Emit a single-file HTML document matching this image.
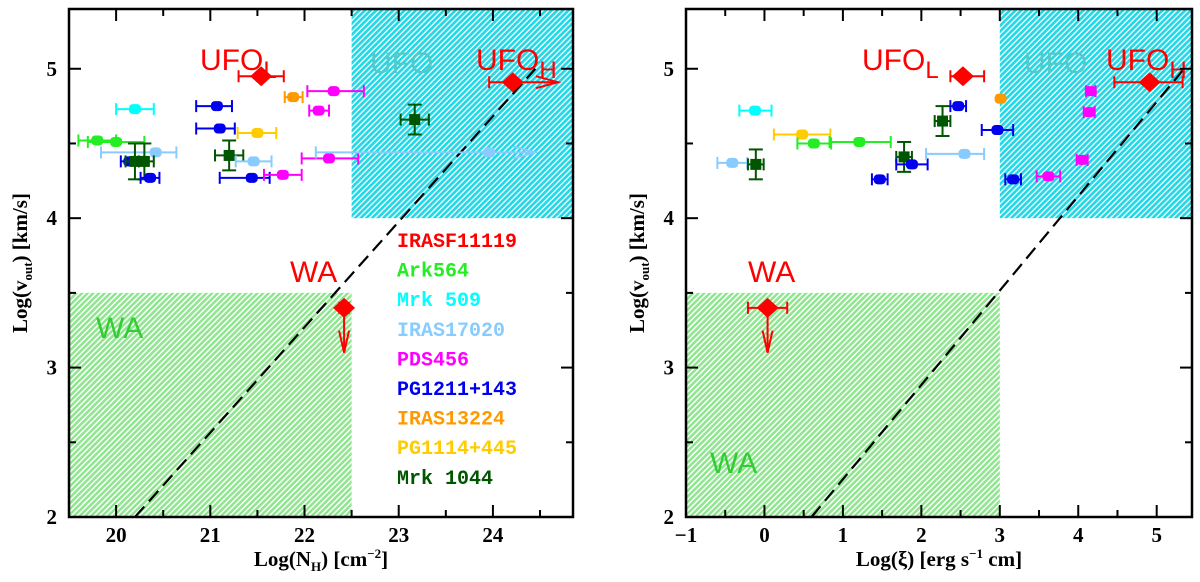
<!DOCTYPE html>
<html><head><meta charset="utf-8"><style>
html,body{margin:0;padding:0;background:#fff;width:1200px;height:582px;overflow:hidden}
svg text{font-family:"Liberation Sans",sans-serif}
.tl{font-family:"Liberation Serif",serif;font-weight:bold;font-size:21px}
.lg{font-family:"Liberation Mono",monospace;font-weight:bold;font-size:20px}
</style></head><body>
<svg id="c" width="1200" height="582" xmlns="http://www.w3.org/2000/svg">
<defs>
<pattern id="hc" width="4" height="4" patternUnits="userSpaceOnUse" patternTransform="rotate(45)">
<rect width="4" height="4" fill="#fff"/><rect width="2.7" height="4" fill="#22d8e6"/></pattern>
<pattern id="hg" width="4" height="4" patternUnits="userSpaceOnUse" patternTransform="rotate(45)">
<rect width="4" height="4" fill="#fff"/><rect width="2.5" height="4" fill="#8ee68e"/></pattern>
</defs>
</svg>
<script>
// colours per source
const colors = {IRASF11119:'#ff0000',Ark564:'#22ee22',Mrk509:'#00ffff',IRAS17020:'#88ccff',PDS456:'#ff00ff',PG1211:'#0000ee',IRAS13224:'#ff9900',PG1114:'#ffcc00',Mrk1044:'#005500'};
const legendNames = ['IRASF11119','Ark564','Mrk 509','IRAS17020','PDS456','PG1211+143','IRAS13224','PG1114+445','Mrk 1044'];
const legendKeys = ['IRASF11119','Ark564','Mrk509','IRAS17020','PDS456','PG1211','IRAS13224','PG1114','Mrk1044'];
// Left panel: log NH data
const nhSrc = ['IRASF11119','IRASF11119','IRAS13224','PDS456','PDS456','Mrk509','PG1211','PG1211','PG1114','Ark564','Ark564','IRAS17020','PG1211','Mrk1044','Mrk1044','PG1211','Mrk1044','IRAS17020','PG1211','PDS456','PDS456','IRAS17020','Mrk1044','IRASF11119'];
const nhX  = [21.54,24.21,21.88,22.31,22.15,20.2,21.07,21.1,21.5,19.8,20.0,20.42,20.14,20.2,20.3,20.36,21.2,21.46,21.44,21.77,22.26,23.96,23.17,22.42];
const nhY  = [4.95,4.91,4.81,4.85,4.72,4.73,4.75,4.6,4.57,4.52,4.51,4.44,4.38,4.38,4.38,4.27,4.42,4.38,4.27,4.29,4.40,4.44,4.66,3.40];
const nhXlo= [21.3,23.96,21.79,22.03,22.05,20.0,20.85,20.85,21.29,19.6,19.7,19.84,20.05,20.1,20.2,20.26,21.05,21.27,21.1,21.57,21.97,22.12,23.02,22.37];
const nhXhi= [21.78,24.69,21.98,22.63,22.26,20.4,21.23,21.26,21.7,20.0,20.3,20.64,20.24,20.3,20.4,20.46,21.35,21.65,21.63,21.97,22.57,24.45,23.32,22.47];
const nhYe = [0,0,0,0,0,0,0,0,0,0,0,0,0,0.12,0.12,0,0.1,0,0,0,0,0,0.1,0];
// Right panel: log xi data
const xiSrc = ['IRASF11119','IRASF11119','IRAS13224','PDS456','PDS456','Mrk509','PG1211','Mrk1044','PG1211','PG1114','Ark564','Ark564','IRAS17020','Mrk1044','Mrk1044','PG1211','IRAS17020','PG1211','PG1211','PDS456','PDS456','IRASF11119'];
const xiX  = [2.53,4.91,3.01,4.16,4.14,-0.12,2.47,2.27,2.97,0.48,0.63,1.21,-0.41,-0.11,1.78,1.88,2.55,1.47,3.17,4.05,3.62,0.04];
const xiY  = [4.95,4.91,4.80,4.85,4.71,4.72,4.75,4.65,4.59,4.56,4.50,4.51,4.37,4.36,4.41,4.36,4.43,4.26,4.26,4.39,4.28,3.40];
const xiXlo= [2.37,4.46,3.01,4.1,4.07,-0.32,2.37,2.17,2.77,0.12,0.42,0.83,-0.6,-0.21,1.68,1.68,2.06,1.37,3.07,3.98,3.47,-0.21];
const xiXhi= [2.8,5.33,3.01,4.22,4.21,0.09,2.57,2.37,3.17,0.84,0.85,1.61,-0.22,-0.01,1.88,2.08,2.8,1.57,3.27,4.12,3.77,0.29];
const xiYe = [0,0,0,0,0,0,0,0.1,0,0,0,0,0,0.1,0.1,0,0,0,0,0,0,0];
const yTicks = ['2','3','4','5'];
const nhTicks = ['20','21','22','23','24'];
const xiTicks = ['\u22121','0','1','2','3','4','5'];

const S='http://www.w3.org/2000/svg', svg=document.getElementById('c');
function mk(t,a,p){const e=document.createElementNS(S,t);for(const k in a)e.setAttribute(k,a[k]);(p||svg).appendChild(e);return e;}
function panel(o){
  const g=mk('g',{});
  
  
  const X=v=>o.L+(v-o.x0)/(o.x1-o.x0)*(o.R-o.L), Y=v=>o.B-(v-2)/(5.4-2)*(o.B-o.T);
  let r=mk('rect',{x:X(o.cyan),y:o.T,width:o.R-X(o.cyan),height:Y(4)-o.T,fill:'url(#hc)'},g);
  
  
  r=mk('rect',{x:o.L,y:Y(3.5),width:X(o.cyan)-o.L,height:o.B-Y(3.5),fill:'url(#hg)'},g);
  
  
  let dl=mk('line',{x1:X(o.line[0]),y1:Y(2),x2:X(o.line[1]),y2:Y(5),stroke:'#000','stroke-width':2.2,'stroke-dasharray':'14,7'},g);
  
  
  const T=(x,y,s,c,name,sub)=>{const t=mk('text',{x:x,y:y,fill:c,'font-size':30},g);t.textContent=s;if(sub){const ts=mk('tspan',{dy:8,'font-size':24},t);ts.textContent=sub;}
    
    return t;};
  o.labels.forEach(l=>T(l[0],l[1],l[2],l[3],l[4],l[5]));
  for(let i=0;i<o.src.length;i++){
    const c=colors[o.src[i]], x=X(o.x[i]), y=Y(o.y[i]), xl=X(o.xlo[i]), xh=X(o.xhi[i]);
    const pg=mk('g',{},g);
    
    
    const arrowR = o.arrR.includes(i), arrowD = o.arrD.includes(i);
    if(xh>xl){
      mk('line',{x1:xl,y1:y,x2:xh,y2:y,stroke:c,'stroke-width':2},pg);
      mk('line',{x1:xl,y1:y-6,x2:xl,y2:y+6,stroke:c,'stroke-width':2},pg);
      if(!arrowR) mk('line',{x1:xh,y1:y-6,x2:xh,y2:y+6,stroke:c,'stroke-width':2},pg);
      else mk('polyline',{points:`${xh-22},${y-6} ${xh},${y} ${xh-22},${y+6}`,fill:'none',stroke:c,'stroke-width':2},pg);
    }
    if(o.ye[i]>0){const a=Y(o.y[i]+o.ye[i]),b=Y(o.y[i]-o.ye[i]);
      mk('line',{x1:x,y1:a,x2:x,y2:b,stroke:c,'stroke-width':2},pg);
      mk('line',{x1:x-7,y1:a,x2:x+7,y2:a,stroke:c,'stroke-width':2},pg);
      mk('line',{x1:x-7,y1:b,x2:x+7,y2:b,stroke:c,'stroke-width':2},pg);}
    if(arrowD){const yb=Y(o.y[i]-0.3);
      mk('line',{x1:x,y1:y,x2:x,y2:yb,stroke:c,'stroke-width':2},pg);
      mk('polyline',{points:`${x-5},${yb-22} ${x},${yb} ${x+5},${yb-22}`,fill:'none',stroke:c,'stroke-width':2},pg);}
    if(o.src[i]==='IRASF11119') mk('polygon',{points:`${x},${y-10} ${x+11},${y} ${x},${y+10} ${x-11},${y}`,fill:c},pg);
    else if(o.src[i]==='Mrk1044') mk('rect',{x:x-5.5,y:y-5.5,width:11,height:11,fill:c},pg);
    else mk('rect',{x:x-6,y:y-5,width:12,height:10,rx:4,fill:c},pg);
  }
  const f=mk('rect',{x:o.L,y:o.T,width:o.R-o.L,height:o.B-o.T,fill:'none',stroke:'#000','stroke-width':2.5},g);
  
  
  for(let v=2;v<=5.01;v+=0.5){const y=Y(v),len=(v%1===0)?12:7;
    mk('line',{x1:o.L,y1:y,x2:o.L+len,y2:y,stroke:'#000','stroke-width':2},g);
    mk('line',{x1:o.R,y1:y,x2:o.R-len,y2:y,stroke:'#000','stroke-width':2},g);}
  yTicks.forEach(s=>{const t=mk('text',{x:o.L-12,y:Y(+s)+7,'text-anchor':'end',class:'tl'},g);t.textContent=s;
    
    });
  for(let v=Math.ceil(o.x0*2)/2;v<=o.x1;v+=0.5){const x=X(v),len=(Math.abs(v%1)<1e-6)?12:7;
    mk('line',{x1:x,y1:o.B,x2:x,y2:o.B-len,stroke:'#000','stroke-width':2},g);
    mk('line',{x1:x,y1:o.T,x2:x,y2:o.T+len,stroke:'#000','stroke-width':2},g);}
  o.xt.forEach(s=>{const v=parseFloat(s.replace('\u2212','-'));const t=mk('text',{x:X(v),y:o.B+25,'text-anchor':'middle',class:'tl'},g);t.textContent=s;
    
    });
  const xt=mk('text',{x:(o.L+o.R)/2,y:566,'text-anchor':'middle',class:'tl','font-size':20},g);
  xt.innerHTML=o.xtitle;
  
  
  const yt=mk('text',{x:0,y:0,'text-anchor':'middle',class:'tl',transform:`translate(${o.L-42},${(o.T+o.B)/2}) rotate(-90)`},g);
  yt.innerHTML='Log(v<tspan dy="5" font-size="13">out</tspan><tspan dy="-5">)  [km/s]</tspan>';
  
  
  return {g,X,Y};
}
panel({name:'nh-panel',L:69,R:573,T:9,B:517,x0:19.5,x1:24.85,cyan:22.5,line:[20.2,24.45],
  src:nhSrc,x:nhX,y:nhY,xlo:nhXlo,xhi:nhXhi,ye:nhYe,arrR:[1,21],arrD:[23],xt:nhTicks,
  xtitle:'Log(N<tspan dy="5" font-size="13">H</tspan><tspan dy="-5">)  [cm</tspan><tspan dy="-8" font-size="13">\u22122</tspan><tspan dy="8">]</tspan>',
  labels:[[200,70,'UFO','#ff0000','ufo-l-label','L'],[370,73,'UFO','#55c8c8','ufo-label'],[476,70,'UFO','#ff0000','ufo-h-label','H'],
          [290,282,'WA','#ff0000','wa-label-red'],[96,338,'WA','#33cc33','wa-label-green']]});
panel({name:'xi-panel',L:686,R:1192,T:9,B:517,x0:-1,x1:5.45,cyan:3,line:[0.6,5.35],
  src:xiSrc,x:xiX,y:xiY,xlo:xiXlo,xhi:xiXhi,ye:xiYe,arrR:[],arrD:[21],xt:xiTicks,
  xtitle:'Log(\u03be)  [erg s<tspan dy="-8" font-size="13">\u22121</tspan><tspan dy="8"> cm]</tspan>',
  labels:[[862,70,'UFO','#ff0000','ufo-l-label','L'],[1024,73,'UFO','#55c8c8','ufo-label'],[1106,70,'UFO','#ff0000','ufo-h-label','H'],
          [748,282,'WA','#ff0000','wa-label-red'],[710,473,'WA','#33cc33','wa-label-green']]});
legendNames.forEach((n,k)=>{const t=mk('text',{x:397,y:247+k*29.6,fill:colors[legendKeys[k]],class:'lg'});t.textContent=n;
  
  });
</script>
</body></html>
